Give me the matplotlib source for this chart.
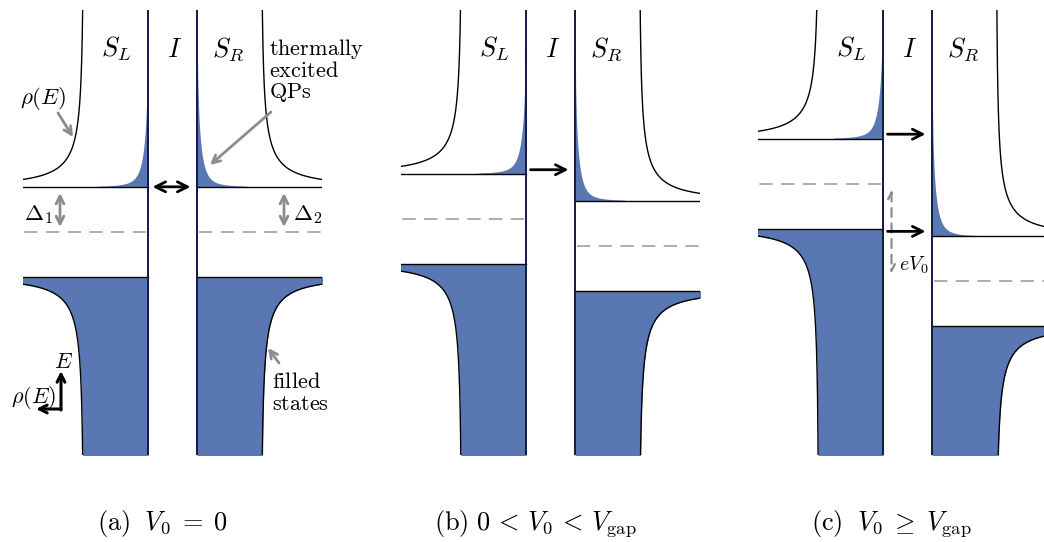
import numpy as np
import matplotlib
matplotlib.use("Agg")
import matplotlib.pyplot as plt

plt.rcParams["mathtext.fontset"] = "cm"
plt.rcParams["font.family"] = ["DejaVu Serif"]

# ---------------- data (energies in units of the gap Delta) ----------------
captions = [r"$\mathrm{(a)}\;\ V_0 \;=\; 0$",
            r"$\mathrm{(b)}\ 0 \,<\, V_0 \,<\, V_{\mathrm{gap}}$",
            r"$\mathrm{(c)}\;\ V_0 \;\geq\; V_{\mathrm{gap}}$"]
electrode_labels = [r"$S_L$", r"$I$", r"$S_R$"]
gap_left = [1.0, 1.0, 1.0]        # Delta_1
gap_right = [1.0, 1.0, 1.0]       # Delta_2
bias = [0.0, 0.6, 2.17]           # eV0 / Delta (shift of right Fermi level)
e_top = [4.93, 4.64, 3.86]        # top of each panel (rel. left Fermi level)
e_span = 9.89                     # energy span shown in each panel
kT = 1.0                          # thermal tail scale
occ_edge = 0.135                  # occupation at the gap edge
rho_cap = 5.8                     # DOS cut-off near the singularity
tunnel_E = [[1.0], [1.09], [1.1, -1.06]]   # tunnelling arrows energies
tunnel_double = [True, False, False]

# ---------------- layout (pixels) ----------------
W, H = 1044, 542
panel_left = [23, 401, 758]
panel_w = 299
panel_top, panel_bot = 10, 455
px_rho = 64.0
px_E = 45.0
barrier_px = 49.0
caption_x = [162.5, 535, 891.5]
label_dx = [-56, 2, 56]

blue = "#5877b3"
wall_col = "#101a46"
grey = "#8c8c8c"

fig = plt.figure(figsize=(W / 100, H / 100), dpi=100)


def bcs(e, d):
    e = np.abs(e)
    r = e / np.sqrt(np.maximum(e ** 2 - d ** 2, 1e-12))
    return np.minimum(r, rho_cap)


def electrode(ax, side, mu, d, ybot, ytop, xl):
    w = barrier_px / 2 / px_rho
    edge = xl[0] if side < 0 else xl[1]
    # upper (empty) band with thermal tail
    eu = mu + d + np.concatenate([[0.0], np.geomspace(1e-5, ytop - mu - d + 0.1, 800)])
    ru = bcs(eu - mu, d)
    occ = occ_edge * np.exp(-(eu - mu - d) / kT)
    ax.fill_betweenx(eu, side * w, side * (w + ru * occ), color=blue, lw=0, zorder=1)
    ax.plot(side * (w + ru[1:]), eu[1:], color="k", lw=1.0, zorder=2)
    # lower (filled) band
    ed = mu - d - np.concatenate([[0.0], np.geomspace(1e-5, mu - d - ybot + 0.1, 800)])
    rd = bcs(ed - mu, d)
    ax.fill_betweenx(ed, side * w, side * (w + rd), color=blue, lw=0, zorder=1)
    ax.plot(side * (w + rd[1:]), ed[1:], color="k", lw=1.0, zorder=2)
    # gap edges
    ax.plot([side * w, edge], [mu + d, mu + d], color="k", lw=1.0, zorder=3)
    ax.plot([side * w, edge], [mu - d, mu - d], color="k", lw=1.0, zorder=3)
    # Fermi level
    ax.plot([side * (w + 0.03), edge], [mu, mu], color="#a0a0a0", lw=1.2,
            ls=(0, (8, 5)), zorder=2)
    # wall
    ax.plot([side * w, side * w], [ybot, ytop], color=wall_col, lw=1.4, zorder=4)


axes = []
for i in range(3):
    ax = fig.add_axes([panel_left[i] / W, (H - panel_bot) / H,
                       panel_w / W, (panel_bot - panel_top) / H])
    xl = (-panel_w / 2 / px_rho, panel_w / 2 / px_rho)
    ytop = e_top[i]
    ybot = e_top[i] - e_span
    ax.set_xlim(*xl)
    ax.set_ylim(ybot, ytop)
    ax.axis("off")
    electrode(ax, -1, 0.0, gap_left[i], ybot, ytop, xl)
    electrode(ax, +1, -bias[i], gap_right[i], ybot, ytop, xl)
    for k, E in enumerate(tunnel_E[i]):
        style = "<->" if tunnel_double[i] else "->"
        ax.annotate("", xy=(18 / px_rho, E), xytext=(-20 / px_rho, E),
                    arrowprops=dict(arrowstyle=style, lw=2.0, color="k",
                                    mutation_scale=18, shrinkA=0, shrinkB=0),
                    zorder=5)
    axes.append(ax)

    cx = panel_left[i] + panel_w / 2
    for lab, dx in zip(electrode_labels, label_dx):
        fig.text((cx + dx) / W, 1 - 57 / H, lab, fontsize=19, ha="center",
                 va="baseline")
    fig.text(caption_x[i] / W, 1 - 530 / H,
             captions[i], fontsize=19, ha="center", va="baseline")

# eV0 arrow in panel (c)
axc = axes[2]
axc.annotate("", xy=(-16 / px_rho, -1.99), xytext=(-16 / px_rho, -0.14),
             arrowprops=dict(arrowstyle="<->", lw=1.6, color=grey, ls=(0, (4, 3)),
                             mutation_scale=12, shrinkA=0, shrinkB=0))
fig.text(899 / W, 1 - 271 / H, r"$eV_0$", fontsize=14.5, ha="left", va="baseline")


# ---------------- annotations in panel (a) (pixel positions) ----------------
def px(x, y):
    return (x / W, 1 - y / H)


def garrow(tail, tip, style="->", color=grey, lw=2.0, ms=14):
    fig.add_artist(matplotlib.patches.FancyArrowPatch(
        px(*tail), px(*tip), transform=fig.transFigure, arrowstyle=style,
        color=color, lw=lw, mutation_scale=ms, shrinkA=0, shrinkB=0))


fig.text(*px(43, 104), r"$\rho(E)$", fontsize=16.5, ha="center", va="baseline")
garrow((58, 113), (73, 137))
for txt, yb in zip(["thermally", "excited", "QPs"], [55, 77, 98]):
    fig.text(*px(269, yb), r"$\mathrm{%s}$" % txt, fontsize=16, ha="left",
             va="baseline")
garrow((271, 112), (210, 165))
garrow((60, 193), (60, 227), style="<->")
garrow((284, 193), (284, 227), style="<->")
fig.text(*px(24, 220), r"$\Delta_1$", fontsize=16.5, ha="left", va="baseline")
fig.text(*px(293, 220), r"$\Delta_2$", fontsize=16.5, ha="left", va="baseline")
garrow((61, 410), (61, 371), color="k", lw=2.2, ms=14)
garrow((61, 409), (36, 409), color="k", lw=2.2, ms=14)
fig.text(*px(64, 368), r"$E$", fontsize=16, ha="center", va="baseline")
fig.text(*px(34, 403), r"$\rho(E)$", fontsize=16, ha="center", va="baseline")
garrow((279, 363), (268, 348))
fig.text(*px(272, 388), r"$\mathrm{filled}$", fontsize=16, ha="left", va="baseline")
fig.text(*px(272, 410), r"$\mathrm{states}$", fontsize=16, ha="left", va="baseline")

fig.savefig("out.png", dpi=100)
